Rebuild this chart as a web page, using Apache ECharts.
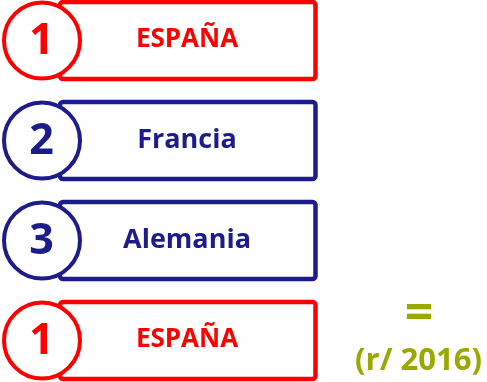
<!DOCTYPE html>
<html>
<head>
<meta charset="utf-8">
<script src="https://cdn.jsdelivr.net/npm/echarts@6/dist/echarts.min.js"></script>
<style>
html,body{margin:0;padding:0;background:#fff;}
#chart{width:487px;height:382px;}
</style>
</head>
<body>
<div id="chart"></div>
<script>
// Data
const ranks = [1, 2, 3, 1];
const countries = ['ESPAÑA', 'Francia', 'Alemania', 'ESPAÑA'];
const changeMarks = ['', '', '', '='];
const notes = ['', '', '', '(r/ 2016)'];

const RED = '#FF0000';
const NAVY = '#1C1C8C';
const OLIVE = '#9AA800';
const FONT = '"Open Sans", "Noto Sans", sans-serif';

const chart = echarts.init(document.getElementById('chart'));

function renderItem(params, api) {
  const idx = api.value(0);
  const rank = api.value(1);
  const name = countries[idx];
  const color = name === 'ESPAÑA' ? RED : NAVY;
  const cy = api.coord([0, idx])[1];
  const X = v => api.coord([v, idx])[0];
  const children = [];
  const x0 = X(60), x1 = X(315.5);
  children.push({
    type: 'rect',
    shape: { x: x0, y: cy - 38.5, width: x1 - x0, height: 77, r: 3 },
    style: { fill: '#fff', stroke: color, lineWidth: 4.5 }
  });
  children.push({
    type: 'circle',
    shape: { cx: X(42), cy: cy, r: 38 },
    style: { fill: '#fff', stroke: color, lineWidth: 4 }
  });
  children.push({
    type: 'text',
    style: { text: String(rank), x: X(41.5), y: cy + 1, fill: color,
      font: 'bold 43px ' + FONT, textAlign: 'center', textVerticalAlign: 'middle' }
  });
  const big = name === 'ESPAÑA' ? 26 : 27;
  children.push({
    type: 'text',
    style: { text: name, x: X(187), y: cy - 0.5, fill: color,
      font: 'bold ' + big + 'px ' + FONT, textAlign: 'center', textVerticalAlign: 'middle' }
  });
  if (changeMarks[idx]) {
    children.push({
      type: 'text',
      style: { text: changeMarks[idx], x: X(419), y: cy - 26, fill: OLIVE,
        font: 'bold 50px ' + FONT, textAlign: 'center', textVerticalAlign: 'middle' }
    });
  }
  if (notes[idx]) {
    children.push({
      type: 'text',
      style: { text: notes[idx], x: X(418.5), y: cy + 21, fill: OLIVE,
        font: 'bold 31px ' + FONT, textAlign: 'center', textVerticalAlign: 'middle' }
    });
  }
  return { type: 'group', children: children };
}

chart.setOption({
  animation: false,
  grid: { left: 0, right: 0, top: 0, bottom: 0 },
  xAxis: { type: 'value', min: 0, max: 487, show: false },
  yAxis: { type: 'value', min: -0.405, max: 3.415, inverse: true, show: false },
  series: [{
    type: 'custom',
    renderItem: renderItem,
    data: ranks.map((r, i) => [i, r]),
    clip: false
  }]
});
</script>
</body>
</html>
